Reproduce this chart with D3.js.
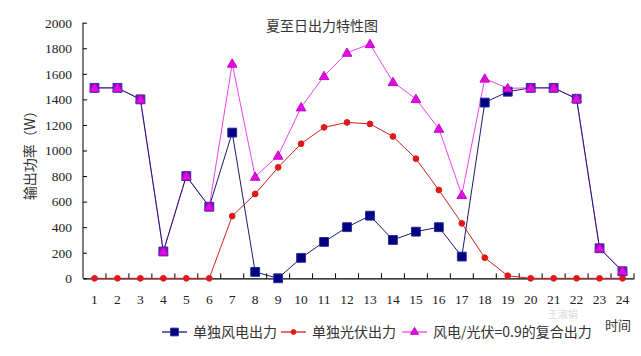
<!DOCTYPE html>
<html><head><meta charset="utf-8">
<script src="https://cdn.jsdelivr.net/npm/d3@7"></script>
<style>html,body{margin:0;padding:0;background:#fff;}svg{display:block;}</style>
</head><body>
<svg id="chart" width="641" height="356"></svg>
<script>
const hours = ["1","2","3","4","5","6","7","8","9","10","11","12","13","14","15","16","17","18","19","20","21","22","23","24"];
const windOutput = [1490,1490,1400,210,800,560,1140,50,0,160,285,400,490,300,365,400,170,1375,1460,1490,1490,1405,235,55];
const solarOutput = [0,0,0,0,0,0,487,660,868,1053,1181,1220,1208,1110,936,691,430,161,20,0,0,0,0,0];
const hybridOutput = [1490,1490,1400,210,800,560,1680,795,960,1338,1583,1765,1833,1536,1403,1171,652,1563,1487,1490,1490,1405,235,55];
const yTicks = [0,200,400,600,800,1000,1200,1400,1600,1800,2000];
const seriesNames = ["单独风电出力","单独光伏出力","风电/光伏=0.9的复合出力"];
const titleText = "夏至日出力特性图";
const yLabel = "输出功率（W）";
const xLabel = "时间";

const svg = d3.select("#chart");
const x = d3.scaleBand().domain(hours).range([83, 634]);
const y = d3.scaleLinear().domain([0, 2000]).range([278.3, 22.7]);
const cx = d => x(d) + x.bandwidth() / 2;

const serif = "'Liberation Serif', 'Times New Roman', 'DejaVu Serif'";
const cjk = "'Noto Sans CJK SC', 'Noto Sans'";

// axes
const yAxis = d3.axisLeft(y).tickValues(yTicks).tickSize(-4).tickPadding(11).tickFormat(d3.format("d"));
const gy = svg.append("g").attr("transform", "translate(83,0)").call(yAxis);
gy.attr("font-family", null);
gy.select(".domain").attr("stroke", "#000").attr("d", `M0,${y(2000)}V${y(0)}`);
gy.selectAll(".tick line").attr("stroke", "#000");
gy.selectAll(".tick text").style("font-family", serif).style("font-size", "13.5px").attr("fill", "#222");

const xAxis = d3.axisBottom(x).tickSize(0).tickPadding(16);
const gx = svg.append("g").attr("transform", `translate(0,${y(0)})`).call(xAxis);
gx.attr("font-family", null);
gx.select(".domain").attr("stroke", "#000").attr("stroke-width", 1.2);
gx.selectAll(".tick text").style("font-family", serif).style("font-size", "13.5px").attr("fill", "#222");
const bounds = hours.slice(1).map(h => x(h)).concat([x(hours[hours.length - 1]) + x.bandwidth()]);
gx.selectAll(".bnd").data(bounds).enter().append("line")
  .attr("x1", d => d).attr("x2", d => d)
  .attr("y1", 0).attr("y2", -5).attr("stroke", "#000");

const series = [
  {name: seriesNames[0], values: windOutput, line: "#1a1a70", fill: "#000080", stroke: "#2b2ba0", shape: d3.symbolSquare, size: 78},
  {name: seriesNames[1], values: solarOutput, line: "#d42020", fill: "#e01818", stroke: "#e01818", shape: d3.symbolCircle, size: 26},
  {name: seriesNames[2], values: hybridOutput, line: "#ee44ee", fill: "#dd11dd", stroke: "#cc00cc", shape: d3.symbolTriangle, size: 40}
];

const line = d3.line().x((d, i) => cx(hours[i])).y(d => y(d));

[2,1,0].forEach(k => {
  const s = series[k];
  svg.append("path").datum(s.values).attr("d", line)
    .attr("fill", "none").attr("stroke", s.line).attr("stroke-width", 1);
});
[1,0,2].forEach(k => {
  const s = series[k];
  svg.append("g").selectAll("path").data(s.values).enter().append("path")
    .attr("transform", (d, i) => `translate(${cx(hours[i])},${y(d) + (k===2?0.8:0)})`)
    .attr("d", d3.symbol().type(s.shape).size(s.size))
    .attr("fill", (d, i) => (k === 0 && Math.abs(s.values[i] - hybridOutput[i]) < 5) ? "#8a10c8" : s.fill)
    .attr("stroke", s.stroke).attr("stroke-width", 1);
});

svg.append("text").attr("x", 322).attr("y", 31).attr("text-anchor", "middle")
  .style("font-family", cjk).style("font-size", "14px").attr("fill", "#333").text(titleText);

svg.append("text").attr("transform", "translate(35,152) rotate(-90)").attr("text-anchor", "middle")
  .style("font-family", cjk).style("font-size", "14px").attr("fill", "#333").text(yLabel);

const legendX = [162, 281, 402];
const lg = svg.append("g");
series.forEach((s, k) => {
  const g = lg.append("g").attr("transform", `translate(${legendX[k]},332)`);
  g.append("line").attr("x1", 0).attr("x2", 25).attr("y1", 0).attr("y2", 0).attr("stroke", s.line).attr("stroke-width", 1.3);
  g.append("path").attr("transform", "translate(12.5,0)").attr("d", d3.symbol().type(s.shape).size(k===0?60:(k===1?18:28)))
    .attr("fill", s.fill).attr("stroke", s.stroke);
  g.append("text").attr("x", 31).attr("y", 5).style("font-family", cjk).style("font-size", "14px").attr("fill", "#333").text(s.name);
});
svg.append("text").attr("x", 605).attr("y", 330).style("font-family", cjk).style("font-size", "13px").attr("fill", "#333").text(xLabel);

svg.append("text").attr("x", 548).attr("y", 318).style("font-family", cjk).style("font-size", "10px")
  .attr("fill", "#c8ccd0").attr("opacity", 0.7).text("王淑娟");
</script>
</body></html>
